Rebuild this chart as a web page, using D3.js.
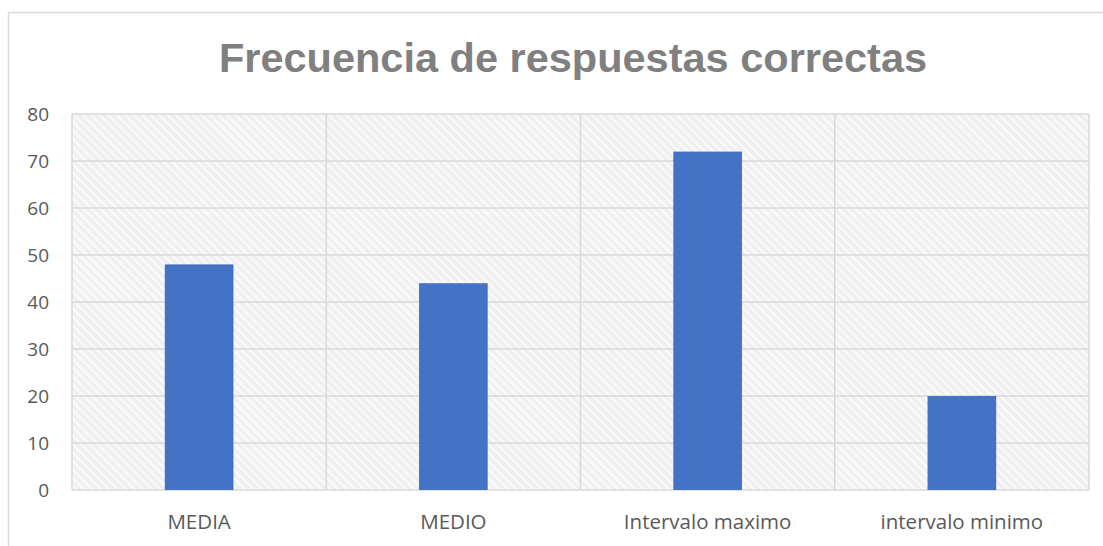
<!DOCTYPE html>
<html><head><meta charset="utf-8">
<script src="https://cdn.jsdelivr.net/npm/d3@7"></script>
<style>body{margin:0;background:#fff}svg{display:block}</style>
</head><body>
<script>
const categories = ["MEDIA","MEDIO","Intervalo maximo","intervalo minimo"];
const values = [48,44,72,20];
const yTicks = [0,10,20,30,40,50,60,70,80];
const title = "Frecuencia de respuestas correctas";

const W=1103,H=546;
const svg=d3.select("body").append("svg").attr("width",W).attr("height",H);
const defs=svg.append("defs");
const pat=defs.append("pattern").attr("id","hatch").attr("patternUnits","userSpaceOnUse")
  .attr("width",6).attr("height",6).attr("patternTransform","rotate(-45)");
pat.append("rect").attr("width",6).attr("height",6).attr("fill","#f0f0f0");
pat.append("rect").attr("width",2.5).attr("height",6).attr("fill","#fafafa");

// outer border
svg.append("rect").attr("x",8.5).attr("y",12.5).attr("width",W).attr("height",H)
  .attr("fill","#fff").attr("stroke","#d9d9d9").attr("stroke-width",1.5);

const m={l:72,r:1089,t:114,b:490};
const x=d3.scaleBand().domain(categories).range([m.l,m.r]).paddingInner(0).paddingOuter(0);
const y=d3.scaleLinear().domain([0,80]).range([m.b,m.t]);

svg.append("rect").attr("x",m.l).attr("y",m.t).attr("width",m.r-m.l).attr("height",m.b-m.t)
  .attr("fill","url(#hatch)");

// gridlines
svg.append("g").selectAll("line").data(yTicks).join("line")
  .attr("x1",m.l).attr("x2",m.r).attr("y1",d=>y(d)).attr("y2",d=>y(d))
  .attr("stroke","#d9d9d9").attr("stroke-width",1.5);
const vx=categories.map(c=>x(c)).concat([m.r]);
svg.append("g").selectAll("line").data(vx).join("line")
  .attr("x1",d=>d).attr("x2",d=>d).attr("y1",m.t).attr("y2",m.b)
  .attr("stroke","#d9d9d9").attr("stroke-width",1.5);

// bars
const bw=x.bandwidth()*0.27;
svg.append("g").selectAll("rect").data(values).join("rect")
  .attr("x",(d,i)=>x(categories[i])+x.bandwidth()/2-bw/2)
  .attr("y",d=>y(d)).attr("width",bw).attr("height",d=>y(0)-y(d))
  .attr("fill","#4472c4");

// y axis labels
const ya=d3.axisLeft(y).tickValues(yTicks).tickSize(0).tickPadding(23);
const yg=svg.append("g").attr("transform",`translate(${m.l},0)`).call(ya);
yg.select(".domain").remove();
yg.selectAll("text").attr("font-family","'Open Sans',sans-serif").attr("font-size",19).attr("fill","#595959");

const xa=d3.axisBottom(x).tickSize(0).tickPadding(24);
const xg=svg.append("g").attr("transform",`translate(0,${m.b})`).call(xa);
xg.select(".domain").remove();
xg.selectAll("text").attr("font-family","'Open Sans',sans-serif").attr("font-size",20.5).attr("fill","#595959");

svg.append("text").attr("x",573).attr("y",72).attr("text-anchor","middle")
  .attr("font-family","'Liberation Sans',Arial,sans-serif").attr("font-weight","bold")
  .attr("font-size",41.5).attr("fill","#808080").text(title);
</script>
</body></html>
